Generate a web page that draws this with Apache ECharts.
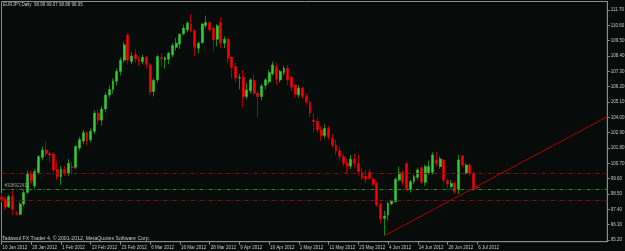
<!DOCTYPE html>
<html>
<head>
<meta charset="utf-8">
<script src="https://cdn.jsdelivr.net/npm/echarts@6/dist/echarts.min.js"></script>
<style>
  html, body { margin: 0; padding: 0; background: #070b09; }
  #chart { width: 625px; height: 251px; }
</style>
</head>
<body>
<div id="chart"></div>
<script>
// daily bars, 10 Jan 2012 .. 6 Jul 2012
const dates = [
  '10 Jan 2012','11 Jan 2012','12 Jan 2012','13 Jan 2012','16 Jan 2012','17 Jan 2012','18 Jan 2012','19 Jan 2012',
  '20 Jan 2012','23 Jan 2012','24 Jan 2012','25 Jan 2012','26 Jan 2012','27 Jan 2012','30 Jan 2012','31 Jan 2012',
  '1 Feb 2012','2 Feb 2012','3 Feb 2012','6 Feb 2012','7 Feb 2012','8 Feb 2012','9 Feb 2012','10 Feb 2012',
  '13 Feb 2012','14 Feb 2012','15 Feb 2012','16 Feb 2012','17 Feb 2012','20 Feb 2012','21 Feb 2012','22 Feb 2012',
  '23 Feb 2012','24 Feb 2012','27 Feb 2012','28 Feb 2012','29 Feb 2012','1 Mar 2012','2 Mar 2012','5 Mar 2012',
  '6 Mar 2012','7 Mar 2012','8 Mar 2012','9 Mar 2012','12 Mar 2012','13 Mar 2012','14 Mar 2012','15 Mar 2012',
  '16 Mar 2012','19 Mar 2012','20 Mar 2012','21 Mar 2012','22 Mar 2012','23 Mar 2012','26 Mar 2012','27 Mar 2012',
  '28 Mar 2012','29 Mar 2012','30 Mar 2012','2 Apr 2012','3 Apr 2012','4 Apr 2012','5 Apr 2012','6 Apr 2012',
  '9 Apr 2012','10 Apr 2012','11 Apr 2012','12 Apr 2012','13 Apr 2012','16 Apr 2012','17 Apr 2012','18 Apr 2012',
  '19 Apr 2012','20 Apr 2012','23 Apr 2012','24 Apr 2012','25 Apr 2012','26 Apr 2012','27 Apr 2012','30 Apr 2012',
  '1 May 2012','2 May 2012','3 May 2012','4 May 2012','7 May 2012','8 May 2012','9 May 2012','10 May 2012',
  '11 May 2012','14 May 2012','15 May 2012','16 May 2012','17 May 2012','18 May 2012','21 May 2012','22 May 2012',
  '23 May 2012','24 May 2012','25 May 2012','28 May 2012','29 May 2012','30 May 2012','31 May 2012','1 Jun 2012',
  '4 Jun 2012','5 Jun 2012','6 Jun 2012','7 Jun 2012','8 Jun 2012','11 Jun 2012','12 Jun 2012','13 Jun 2012',
  '14 Jun 2012','15 Jun 2012','18 Jun 2012','19 Jun 2012','20 Jun 2012','21 Jun 2012','22 Jun 2012','25 Jun 2012',
  '26 Jun 2012','27 Jun 2012','28 Jun 2012','29 Jun 2012','2 Jul 2012','3 Jul 2012','4 Jul 2012','5 Jul 2012',
  '6 Jul 2012'
];

const opens = [
  98.30, 98.12, 97.59, 98.31, 97.14, 97.04, 97.78, 98.62, 99.92, 99.08, 100.06, 101.13, 101.66, 101.40, 101.37, 100.27,
  99.74, 100.27, 99.99, 100.45, 100.42, 101.80, 102.30, 102.90, 102.40, 103.00, 104.30, 103.80, 104.60, 105.60, 106.00, 106.60,
  107.30, 108.10, 109.90, 108.00, 108.50, 108.20, 108.00, 108.30, 107.76, 105.85, 106.69, 108.28, 108.12, 108.17, 108.48, 109.03,
  109.25, 109.99, 110.28, 110.70, 110.23, 108.96, 109.36, 110.59, 110.80, 110.40, 109.60, 110.80, 109.32, 109.60, 108.31, 107.64,
  106.81, 106.88, 105.49, 105.90, 106.64, 105.73, 105.49, 106.30, 106.56, 107.12, 107.64, 106.68, 107.20, 107.52, 106.88, 106.33,
  105.62, 106.10, 105.50, 105.10, 103.80, 103.70, 103.10, 102.70, 103.20, 102.50, 102.00, 101.60, 101.20, 100.70, 100.50, 101.00,
  100.70, 100.06, 99.76, 100.06, 99.56, 99.27, 97.76, 96.76, 96.99, 97.79, 97.95, 99.51, 100.03, 100.66, 98.84, 99.39,
  99.70, 100.39, 99.34, 100.03, 100.06, 100.94, 100.47, 100.94, 99.46, 99.03, 99.27, 98.80, 101.23, 100.00, 100.58, 99.99,
  98.99
];
const highs = [
  98.60, 98.31, 98.45, 98.76, 97.30, 97.95, 98.79, 100.17, 100.17, 100.30, 101.30, 101.90, 102.30, 101.60, 101.50, 100.90,
  100.50, 100.50, 101.00, 100.80, 102.00, 102.60, 103.10, 103.00, 103.20, 104.50, 104.60, 104.80, 105.80, 106.30, 106.80, 107.50,
  108.30, 109.40, 110.06, 108.70, 108.90, 108.40, 108.50, 108.40, 107.90, 106.80, 108.50, 108.60, 108.36, 108.70, 109.35, 109.70,
  110.00, 110.65, 110.90, 111.42, 110.30, 109.45, 110.76, 111.30, 110.90, 110.50, 110.70, 111.17, 109.80, 109.70, 108.40, 107.90,
  107.10, 107.40, 106.45, 106.80, 107.10, 105.90, 106.40, 106.80, 107.40, 108.00, 107.90, 107.40, 107.70, 107.76, 107.00, 106.40,
  106.30, 106.20, 105.70, 105.20, 104.30, 104.00, 103.40, 103.50, 103.40, 102.80, 102.40, 101.90, 101.40, 101.00, 101.30, 101.40,
  101.30, 100.30, 100.20, 100.30, 99.70, 99.40, 97.90, 97.30, 97.95, 98.10, 99.70, 100.46, 100.20, 100.82, 99.50, 99.90,
  100.40, 100.50, 100.60, 100.90, 101.50, 101.50, 101.20, 101.00, 99.60, 99.50, 99.40, 101.30, 101.30, 100.70, 100.70, 100.10,
  99.07
];
const lows = [
  97.90, 97.35, 97.50, 96.98, 96.95, 96.98, 97.60, 98.50, 99.20, 98.90, 99.90, 100.90, 101.20, 100.80, 100.10, 99.50,
  99.15, 99.80, 99.80, 99.90, 100.30, 101.60, 102.10, 102.00, 102.20, 102.80, 103.50, 103.40, 104.40, 105.40, 105.70, 106.30,
  107.00, 107.90, 107.80, 107.80, 107.90, 107.70, 107.80, 107.50, 105.60, 105.50, 106.50, 107.64, 107.50, 107.80, 108.30, 108.80,
  108.90, 109.90, 110.10, 110.10, 108.40, 108.60, 109.30, 110.40, 110.10, 108.72, 109.10, 108.96, 108.96, 107.90, 106.80, 106.50,
  106.00, 104.70, 105.30, 105.70, 105.60, 104.00, 105.20, 106.00, 106.40, 107.00, 106.30, 106.50, 107.00, 106.30, 105.90, 105.40,
  105.40, 105.30, 104.90, 104.00, 102.90, 102.90, 102.30, 102.50, 102.40, 101.80, 101.30, 100.90, 100.50, 100.00, 100.30, 100.40,
  99.80, 99.50, 99.30, 99.50, 99.10, 97.60, 96.40, 95.51, 96.60, 97.70, 97.90, 99.40, 99.10, 98.70, 98.60, 99.20,
  99.50, 99.20, 99.10, 99.90, 99.90, 100.50, 100.30, 99.30, 98.90, 98.90, 98.50, 98.50, 100.40, 99.90, 99.80, 98.70,
  98.88
];
const closes = [
  98.10, 97.59, 98.31, 97.40, 97.08, 97.78, 98.60, 99.92, 99.46, 100.10, 101.18, 101.66, 101.40, 101.30, 100.23, 99.74,
  100.27, 99.99, 100.70, 100.40, 101.90, 102.40, 102.90, 102.30, 103.00, 104.30, 103.80, 104.60, 105.60, 106.00, 106.60, 107.30,
  108.10, 109.20, 108.10, 108.40, 108.20, 108.00, 108.30, 107.80, 105.82, 106.65, 108.36, 108.20, 108.28, 108.60, 109.15, 109.32,
  109.97, 110.40, 110.76, 110.20, 109.03, 109.32, 110.70, 110.80, 110.28, 109.56, 110.56, 109.32, 109.60, 108.24, 107.57, 106.81,
  106.85, 105.49, 105.97, 106.69, 105.73, 105.49, 106.25, 106.69, 107.21, 107.76, 106.73, 107.29, 107.52, 106.69, 106.16, 105.66,
  106.09, 105.50, 105.10, 104.30, 103.70, 103.10, 102.70, 103.20, 102.60, 102.00, 101.60, 101.20, 100.70, 100.50, 101.00, 100.70,
  100.10, 99.63, 99.56, 99.63, 99.20, 97.71, 96.71, 96.92, 97.83, 98.00, 99.56, 100.03, 99.34, 98.84, 99.39, 99.75,
  100.23, 99.34, 100.47, 100.47, 101.30, 100.70, 101.02, 99.51, 99.22, 99.27, 98.67, 100.94, 100.58, 100.58, 99.99, 98.84,
  98.95
];

const priceTicks = [95.20, 96.30, 97.40, 98.50, 99.60, 100.70, 101.80, 102.90, 104.00, 105.10, 106.20, 107.30, 108.40, 109.50, 110.60, 111.70];
const takeProfit = 100.02;
const orderPrice = 98.84;
const stopLoss = 98.07;
const orderTicket = '#308922411';
const trendEnd = [163, 104.05];   // ray from the 1 Jun low to the right edge
const trendStartIdx = 103;

const futureBars = 35;  // empty space right of last bar (chart shift)
const last = dates.length - 1;

// build what echarts needs
const categories = dates.concat(new Array(futureBars).fill(''));
const wickData = dates.map((d, i) => [opens[i], closes[i], lows[i], highs[i]]);
const bodyData = dates.map((d, i) => [opens[i], closes[i], Math.min(opens[i], closes[i]), Math.max(opens[i], closes[i])]);
const trendData = [[trendStartIdx, lows[trendStartIdx]], trendEnd];

const font = 'Liberation Sans';
const txt = '#c8c8c8';
const frame = '#8c8c8c';

const chart = echarts.init(document.getElementById('chart'));
const option = {
  backgroundColor: '#070b09',
  animation: false,
  title: [
    {
      text: 'EURJPY,Daily  ' + [opens[last], highs[last], lows[last], closes[last]].map(v => v.toFixed(2)).join(' '),
      left: 3, top: 2.5, padding: 0,
      textStyle: {color: txt, fontSize: 4.5, fontWeight: 'normal', fontFamily: font}
    },
    {
      text: 'Tadawul FX Trader 4, \u00a9 2001-2012, MetaQuotes Software Corp.',
      left: 2, top: 236, padding: 0,
      textStyle: {color: txt, fontSize: 5.2, fontWeight: 'normal', fontFamily: font}
    }
  ],
  grid: {
    left: 1.5, right: 17.7, top: 1.5, bottom: 9.3,
    show: true,
    borderColor: frame,
    borderWidth: 1,
    containLabel: false,
    outerBoundsMode: 'none'
  },
  xAxis: {
    type: 'category',
    data: categories,
    boundaryGap: false,
    axisLine: {show: true, lineStyle: {color: frame, width: 1}},
    axisTick: {
      show: true, length: 3,
      interval: (i) => i % 8 === 0 && i <= last,
      lineStyle: {color: frame}
    },
    axisLabel: {
      show: true,
      interval: (i) => i % 8 === 0 && i <= last,
      align: 'left',
      margin: 3.5,
      padding: [0, 0, 0, 1],
      color: txt,
      fontSize: 4.5,
      fontFamily: font
    },
    splitLine: {show: false}
  },
  yAxis: {
    type: 'value',
    position: 'right',
    min: 95.08,
    max: 112.31,
    scale: true,
    splitLine: {show: false},
    axisLine: {show: true, lineStyle: {color: frame, width: 1}},
    axisTick: {show: true, length: 2.5, customValues: priceTicks, lineStyle: {color: frame}},
    axisLabel: {
      show: true,
      customValues: priceTicks,
      formatter: (v) => v.toFixed(2),
      margin: 3.5,
      color: txt,
      fontSize: 4.5,
      fontFamily: font
    }
  },
  series: [
    {
      name: 'wick',
      type: 'candlestick',
      data: wickData,
      barWidth: 1,
      itemStyle: {
        color: '#0c8a0c', color0: '#a80000',
        borderColor: '#0c8a0c', borderColor0: '#a80000',
        borderWidth: 1
      },
      markLine: {
        silent: true,
        symbol: 'none',
        animation: false,
        data: [
          {yAxis: takeProfit, lineStyle: {color: '#8e0a0a', width: 1, type: [4, 2, 1, 2]}, label: {show: false}},
          {yAxis: stopLoss, lineStyle: {color: '#8e0a0a', width: 1, type: [4, 2, 1, 2]}, label: {show: false}},
          {
            yAxis: orderPrice,
            lineStyle: {color: '#1f8f1f', width: 1, type: [4, 2, 1, 2]},
            label: {
              show: true, position: 'insideStartTop', distance: [3, 1],
              formatter: orderTicket,
              color: '#9a9a9a', fontSize: 4.5, fontFamily: font
            }
          },
          {
            yAxis: closes[last],
            lineStyle: {opacity: 0},
            label: {
              show: true, position: 'end', distance: 1.5,
              formatter: closes[last].toFixed(2),
              color: '#000', backgroundColor: '#e6e6e6',
              padding: [0.5, 1, 0, 1],
              fontSize: 4.5, fontFamily: font
            }
          }
        ]
      }
    },
    {
      name: 'body',
      type: 'candlestick',
      data: bodyData,
      barWidth: 2.4,
      itemStyle: {
        color: '#32cd32', color0: '#ff0000',
        borderColor: '#2bbf2b', borderColor0: '#e60000',
        borderWidth: 0.6
      }
    },
    {
      name: 'trend',
      type: 'line',
      data: trendData,
      symbol: 'none',
      lineStyle: {color: '#b00000', width: 1},
      z: 5
    }
  ]
};
chart.setOption(option);
</script>
</body>
</html>
